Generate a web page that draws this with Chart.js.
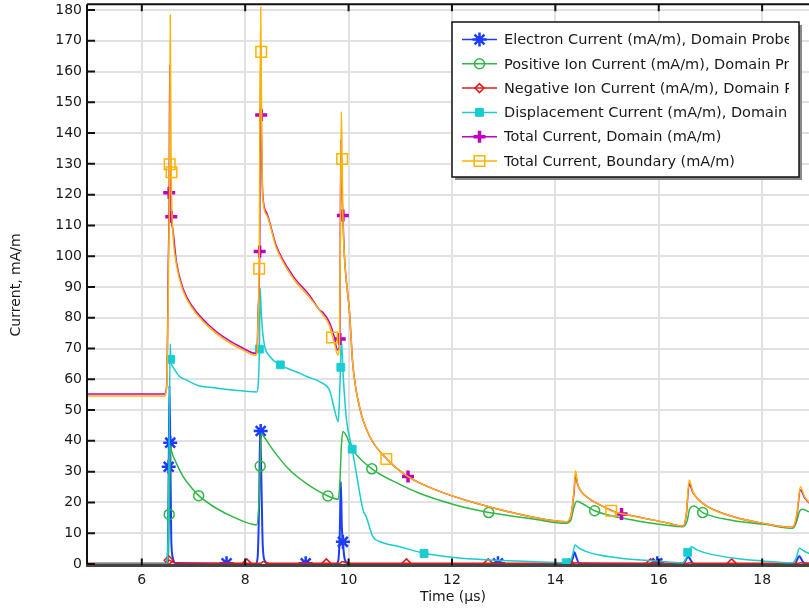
<!DOCTYPE html>
<html>
<head>
<meta charset="utf-8">
<script src="https://cdn.jsdelivr.net/npm/chart.js@4.4.0/dist/chart.umd.min.js"></script>
<style>
  html, body { margin: 0; padding: 0; background: #fff; overflow: hidden; }
</style>
</head>
<body>
<canvas id="chart" width="830" height="609"></canvas>
<script>
// ----- data (time in µs, current in mA/m) -----
const electronT = [4.94, 6.47, 6.50, 6.52, 6.535, 6.55, 6.57, 6.60, 6.65, 8.20, 8.24, 8.27, 8.29, 8.31, 8.34, 8.38, 8.45,
  9.76, 9.80, 9.83, 9.85, 9.87, 9.89, 9.92, 9.96, 10.05, 14.28, 14.34, 14.37, 14.40, 14.46,
  16.48, 16.53, 16.57, 16.61, 16.67, 18.63, 18.68, 18.72, 18.76, 18.82, 19.1];
const electronI = [0, 0, 2, 30, 58, 40, 8, 2, 0.3, 0, 2, 20, 44, 30, 6, 1, 0,
  0, 1, 10, 26.7, 12, 7, 2, 0.5, 0, 0, 2, 3.8, 2.5, 0.2,
  0, 1.5, 2.4, 1.5, 0, 0, 1.5, 2.6, 1.5, 0.2, 0];
const electronMarkT = [6.52, 6.55, 7.64, 8.30, 9.17, 9.89, 12.89, 15.97];
const electronMarkI = [31.6, 39.4, 0.2, 43.2, 0.2, 7.2, 0.2, 0.2];

const positiveT = [4.94, 6.50, 6.52, 6.53, 6.555, 6.57, 6.67, 6.80, 6.95, 7.10, 7.44, 7.83, 8.22, 8.26, 8.29, 8.31, 8.34,
  8.54, 8.86, 9.18, 9.60, 9.80, 9.83, 9.86, 9.89, 10.08, 10.45, 11.0, 11.37, 12.0, 12.47, 12.71, 13.57, 14.21,
  14.30, 14.36, 14.42, 14.50, 14.76, 15.5, 16.15, 16.47, 16.55, 16.60, 16.68, 16.85, 17.43, 18.08, 18.59,
  18.66, 18.72, 18.78, 18.9, 19.1];
const positiveI = [0, 0, 5, 16, 38.5, 37, 32.7, 28.4, 25, 22.2, 18.1, 14.8, 12.7, 18, 31.8, 42.5, 41.9,
  37, 30.5, 26.2, 22.1, 21, 26, 38, 43, 37, 30.9, 25.8, 23, 19.5, 17.5, 16.7, 14.6, 13.2,
  14.3, 18.5, 20.4, 19.8, 17.3, 14.3, 12.6, 12.1, 14, 18, 18.8, 16.7, 14.1, 12.8, 11.6,
  13.5, 17, 17.8, 17, 16];
const positiveMarkT = [6.53, 7.10, 8.29, 9.60, 10.45, 12.71, 14.76, 16.85];
const positiveMarkI = [16.1, 22.2, 31.8, 22.1, 30.9, 16.7, 17.3, 16.7];

const negativeT = [4.94, 6.49, 6.52, 6.56, 6.62, 6.75, 8.30, 8.35, 8.40, 8.50, 9.83, 9.88, 9.93, 10.0,
  14.35, 14.40, 14.50, 16.55, 16.60, 16.70, 18.70, 18.75, 18.85, 19.1];
const negativeI = [0.2, 0.2, 1.3, 1.0, 0.5, 0.3, 0.2, 0.8, 0.5, 0.2, 0.2, 0.8, 0.5, 0.2,
  0.2, 0.4, 0.2, 0.2, 0.4, 0.2, 0.2, 0.4, 0.2, 0.2];
const negativeMarkT = [6.52, 8.03, 9.57, 11.12, 12.70, 14.27, 15.84, 17.41];
const negativeMarkI = [1.2, 0.2, 0.2, 0.2, 0.2, 0.2, 0.2, 0.2];

const displacementT = [4.94, 6.48, 6.51, 6.53, 6.55, 6.56, 6.60, 6.73, 6.86, 7.12, 7.31, 7.76, 8.22, 8.25, 8.275, 8.29,
  8.31, 8.34, 8.38, 8.47, 8.68, 9.05, 9.18, 9.50, 9.63, 9.73, 9.80, 9.82, 9.84, 9.86, 9.90, 9.96, 10.07,
  10.15, 10.28, 10.34, 10.47, 10.60, 10.99, 11.46, 12.0, 12.71, 13.5, 14.21, 14.30, 14.34, 14.38, 14.45,
  14.60, 14.85, 15.3, 16.0, 16.46, 16.52, 16.58, 16.63, 16.75, 17.0, 17.5, 18.0, 18.59, 18.66, 18.72,
  18.80, 18.90, 19.1];
const displacementI = [0, 0, 10, 40, 71.5, 66.5, 64.1, 60.9, 59.8, 57.8, 57.4, 56.5, 55.9, 58, 70, 89.6,
  82, 75, 70.5, 67.5, 64.7, 62, 61, 58.7, 56.5, 50, 46.2, 52, 62, 72.8, 60, 46.8, 37.3,
  29.5, 17.5, 15.4, 8.9, 7.3, 5.6, 3.5, 2.2, 1.3, 0.8, 0.4, 1.2, 3.5, 6.2, 5.2,
  4, 2.9, 1.8, 0.9, 0.4, 1.5, 3.8, 5.6, 4.5, 3.2, 1.8, 1.0, 0.4, 2, 5.1,
  4.3, 3.5, 2.5];
const displacementMarkT = [6.56, 8.275, 8.68, 9.85, 10.07, 11.46, 14.21, 16.56];
const displacementMarkI = [66.5, 69.8, 64.7, 63.9, 37.3, 3.4, 0.4, 3.8];

const totalDomainT = [4.94, 6.44, 6.47, 6.49, 6.51, 6.53, 6.54, 6.555, 6.57, 6.60, 6.67, 6.80, 6.99, 7.31, 7.64, 7.96,
  8.20, 8.23, 8.25, 8.28, 8.30, 8.31, 8.34, 8.41, 8.60, 8.92, 9.25, 9.44, 9.50, 9.63, 9.73, 9.78, 9.81,
  9.83, 9.85, 9.875, 9.89, 9.92, 9.955, 10.02, 10.08, 10.21, 10.41, 10.73, 11.15, 11.70, 12.47, 13.57,
  14.21, 14.30, 14.36, 14.39, 14.43, 14.60, 14.86, 15.28, 15.5, 16.15, 16.47, 16.53, 16.59, 16.66, 16.85,
  17.43, 18.08, 18.59, 18.67, 18.74, 18.82, 18.9, 19.1];
const totalDomainI = [55.2, 55.2, 56.5, 62, 95, 120.6, 162, 125, 112.8, 108.8, 98.2, 89.4, 83.4, 77.4, 73.1, 70.1,
  68.4, 69.5, 82, 101.5, 168, 145.9, 120, 114.3, 103.5, 93.7, 87.2, 82.5, 81.8, 78.5, 73.3, 69.5, 70,
  73.1, 138, 120, 113.2, 100, 92.3, 81.4, 65.2, 51.1, 41.4, 34.3, 28.4, 24.0, 19.7, 15.2,
  13.7, 15.5, 23, 29, 25.8, 21.9, 19.2, 16.2, 15.6, 13.4, 12.3, 15.5, 26, 23.2, 19.7,
  15.4, 13, 11.9, 15.5, 24, 21.6, 20, 17.5];
const totalDomainMarkT = [6.53, 6.57, 8.28, 8.31, 9.83, 9.89, 11.15, 15.28];
const totalDomainMarkI = [120.6, 112.8, 101.5, 145.9, 73.1, 113.2, 28.4, 16.2];

const totalBoundaryT = [4.94, 6.44, 6.47, 6.49, 6.52, 6.54, 6.55, 6.565, 6.575, 6.60, 6.67, 6.80, 6.99, 7.31, 7.64, 7.96,
  8.20, 8.23, 8.25, 8.27, 8.30, 8.315, 8.34, 8.41, 8.60, 8.92, 9.25, 9.50, 9.63, 9.68, 9.73, 9.79, 9.82,
  9.84, 9.86, 9.875, 9.89, 9.92, 9.955, 10.02, 10.08, 10.21, 10.41, 10.73, 11.15, 11.70, 12.47, 13.57,
  14.21, 14.30, 14.36, 14.39, 14.43, 14.60, 14.86, 15.08, 15.5, 16.15, 16.47, 16.53, 16.59, 16.66, 16.85,
  17.43, 18.08, 18.59, 18.67, 18.74, 18.82, 18.9, 19.1];
const totalBoundaryI = [54.6, 54.6, 56, 61, 100, 129.9, 178.4, 135, 120, 108, 97.3, 88.7, 82.8, 76.8, 72.5, 69.5,
  67.8, 69, 80, 95.9, 181, 150, 119, 113.6, 102.8, 93, 86.5, 81, 77.5, 74.5, 71.5, 67.9, 70,
  100, 147, 131.6, 113.2, 100, 92.3, 81.4, 65.2, 51.1, 41.4, 34.3, 28.4, 24.0, 19.7, 15.2,
  13.7, 15.5, 24, 30.3, 26.2, 21.9, 19.2, 17.3, 15.6, 13.4, 12.3, 16, 27.3, 23.5, 19.7,
  15.4, 13, 11.9, 16, 25.1, 21.9, 20.2, 17.5];
const totalBoundaryMarkT = [6.54, 6.575, 8.27, 8.31, 9.68, 9.875, 10.73, 15.08];
const totalBoundaryMarkI = [129.9, 127.3, 95.9, 166.4, 73.6, 131.6, 34.1, 17.3];

const seriesNames = [
  "Electron Current (mA/m), Domain Probe 1",
  "Positive Ion Current (mA/m), Domain Probe 1",
  "Negative Ion Current (mA/m), Domain Probe 1",
  "Displacement Current (mA/m), Domain Probe 1",
  "Total Current, Domain (mA/m)",
  "Total Current, Boundary (mA/m)",
];
const xTicks = [6, 8, 10, 12, 14, 16, 18];
const yTicks = [0, 10, 20, 30, 40, 50, 60, 70, 80, 90, 100, 110, 120, 130, 140, 150, 160, 170, 180];

// ----- styles -----
const colors = ["#1c3cff", "#2fb845", "#e01b1b", "#17cdd2", "#bf00bf", "#ffb400"];
const markerStyle = [
  { pointStyle: "star", radius: 7, borderWidth: 2.5, fill: "#1c3cff" },
  { pointStyle: "circle", radius: 5, borderWidth: 1.5, fill: "rgba(0,0,0,0)" },
  { pointStyle: "rectRot", radius: 4.5, borderWidth: 1.5, fill: "rgba(0,0,0,0)" },
  { pointStyle: "rect", radius: 5.5, borderWidth: 1, fill: "#17cdd2" },
  { pointStyle: "cross", radius: 6, borderWidth: 3.5, fill: "#bf00bf" },
  { pointStyle: "rect", radius: 7.5, borderWidth: 1.5, fill: "rgba(0,0,0,0)" },
];

const pts = (t, v) => t.map((x, i) => ({ x: x, y: v[i] }));
const lines = [
  pts(electronT, electronI), pts(positiveT, positiveI), pts(negativeT, negativeI),
  pts(displacementT, displacementI), pts(totalDomainT, totalDomainI), pts(totalBoundaryT, totalBoundaryI),
];
const marks = [
  pts(electronMarkT, electronMarkI), pts(positiveMarkT, positiveMarkI), pts(negativeMarkT, negativeMarkI),
  pts(displacementMarkT, displacementMarkI), pts(totalDomainMarkT, totalDomainMarkI), pts(totalBoundaryMarkT, totalBoundaryMarkI),
];

const datasets = [];
lines.forEach((d, i) => {
  datasets.push({
    label: seriesNames[i],
    data: d,
    borderColor: colors[i],
    borderWidth: i === 0 ? 2 : 1.5,
    pointRadius: 0,
    cubicInterpolationMode: "monotone",
    order: 60 - i * 10,
  });
});
marks.forEach((d, i) => {
  const m = markerStyle[i];
  datasets.push({
    label: seriesNames[i] + " markers",
    data: d,
    showLine: false,
    borderColor: colors[i],
    backgroundColor: m.fill,
    pointStyle: m.pointStyle,
    pointRadius: m.radius,
    pointBorderWidth: m.borderWidth,
    order: 55 - i * 10,
  });
});

// frame + inward ticks, like the original plot
const framePlugin = {
  id: "frame",
  afterDatasetsDraw(chart) {
    const { ctx, chartArea: a, scales } = chart;
    ctx.save();
    ctx.strokeStyle = "#111";
    ctx.lineWidth = 2;
    ctx.beginPath();
    ctx.moveTo(a.left, a.top); ctx.lineTo(a.right, a.top);
    ctx.moveTo(a.left, a.top); ctx.lineTo(a.left, a.bottom);
    ctx.stroke();
    ctx.strokeStyle = "#444";
    ctx.lineWidth = 3;
    ctx.beginPath();
    ctx.moveTo(a.left - 1, a.bottom); ctx.lineTo(a.right, a.bottom);
    ctx.stroke();
    ctx.strokeStyle = "#111";
    ctx.lineWidth = 2;
    ctx.beginPath();
    scales.x.ticks.forEach((t) => {
      const px = scales.x.getPixelForValue(t.value);
      ctx.moveTo(px, a.bottom); ctx.lineTo(px, a.bottom - 7);
      ctx.moveTo(px, a.top); ctx.lineTo(px, a.top + 7);
    });
    scales.y.ticks.forEach((t) => {
      const py = scales.y.getPixelForValue(t.value);
      ctx.moveTo(a.left, py); ctx.lineTo(a.left + 8, py);
    });
    ctx.stroke();
    ctx.restore();
  },
};

// legend box with line + marker samples
const legendPlugin = {
  id: "boxLegend",
  afterDraw(chart) {
    const ctx = chart.ctx;
    const bx = 452, by = 22, bw = 347, bh = 155;
    ctx.save();
    ctx.fillStyle = "#8a8a8a";
    ctx.fillRect(bx + 3, by + 3, bw, bh);
    ctx.fillStyle = "#fff";
    ctx.fillRect(bx, by, bw, bh);
    ctx.strokeStyle = "#111";
    ctx.lineWidth = 1.5;
    ctx.strokeRect(bx, by, bw, bh);
    ctx.beginPath();
    ctx.rect(bx, by, bw - 10, bh);
    ctx.clip();
    ctx.font = "14.5px 'DejaVu Sans'";
    ctx.textBaseline = "middle";
    seriesNames.forEach((name, i) => {
      const y = 39.5 + i * 24.3;
      ctx.strokeStyle = colors[i];
      ctx.lineWidth = 1.5;
      ctx.beginPath();
      ctx.moveTo(462, y); ctx.lineTo(497, y);
      ctx.stroke();
      const m = markerStyle[i];
      ctx.fillStyle = m.fill;
      ctx.lineWidth = m.borderWidth;
      Chart.helpers.drawPoint(ctx, { pointStyle: m.pointStyle, radius: m.radius, borderWidth: m.borderWidth, rotation: 0 }, 479.5, y);
      ctx.fillStyle = "#1a1a1a";
      ctx.fillText(name, 504, y + 1);
    });
    ctx.restore();
  },
};

Chart.defaults.font.family = "'DejaVu Sans', sans-serif";
Chart.defaults.font.size = 14;
Chart.defaults.color = "#1a1a1a";

new Chart(document.getElementById("chart"), {
  type: "line",
  data: { datasets: datasets },
  options: {
    responsive: false,
    animation: false,
    layout: { autoPadding: false, padding: { top: 4.3, right: 11, left: 0, bottom: 0 } },
    plugins: { legend: { display: false }, tooltip: { enabled: false } },
    scales: {
      x: {
        type: "linear",
        min: 4.94,
        max: 19.1,
        afterBuildTicks: (s) => { s.ticks = xTicks.map((v) => ({ value: v })); },
        afterFit: (s) => { s.height = 43.5; },
        ticks: { padding: 6, maxRotation: 0, autoSkip: false },
        grid: { color: "#e2e2e2", lineWidth: 2, drawTicks: false },
        border: { display: false },
        title: { display: true, text: "Time (µs)", padding: { top: 0, bottom: 3 } },
      },
      y: {
        type: "linear",
        min: -0.5,
        max: 181.85,
        afterBuildTicks: (s) => { s.ticks = yTicks.map((v) => ({ value: v })); },
        afterFit: (s) => { s.width = 87; s.paddingTop = 0; s.paddingBottom = 0; },
        ticks: { padding: 5, autoSkip: false },
        grid: { color: "#e2e2e2", lineWidth: 2, drawTicks: false },
        border: { display: false },
        title: { display: true, text: "Current, mA/m", padding: { top: 8, bottom: 0 } },
      },
    },
  },
  plugins: [framePlugin, legendPlugin],
});
</script>
</body>
</html>
